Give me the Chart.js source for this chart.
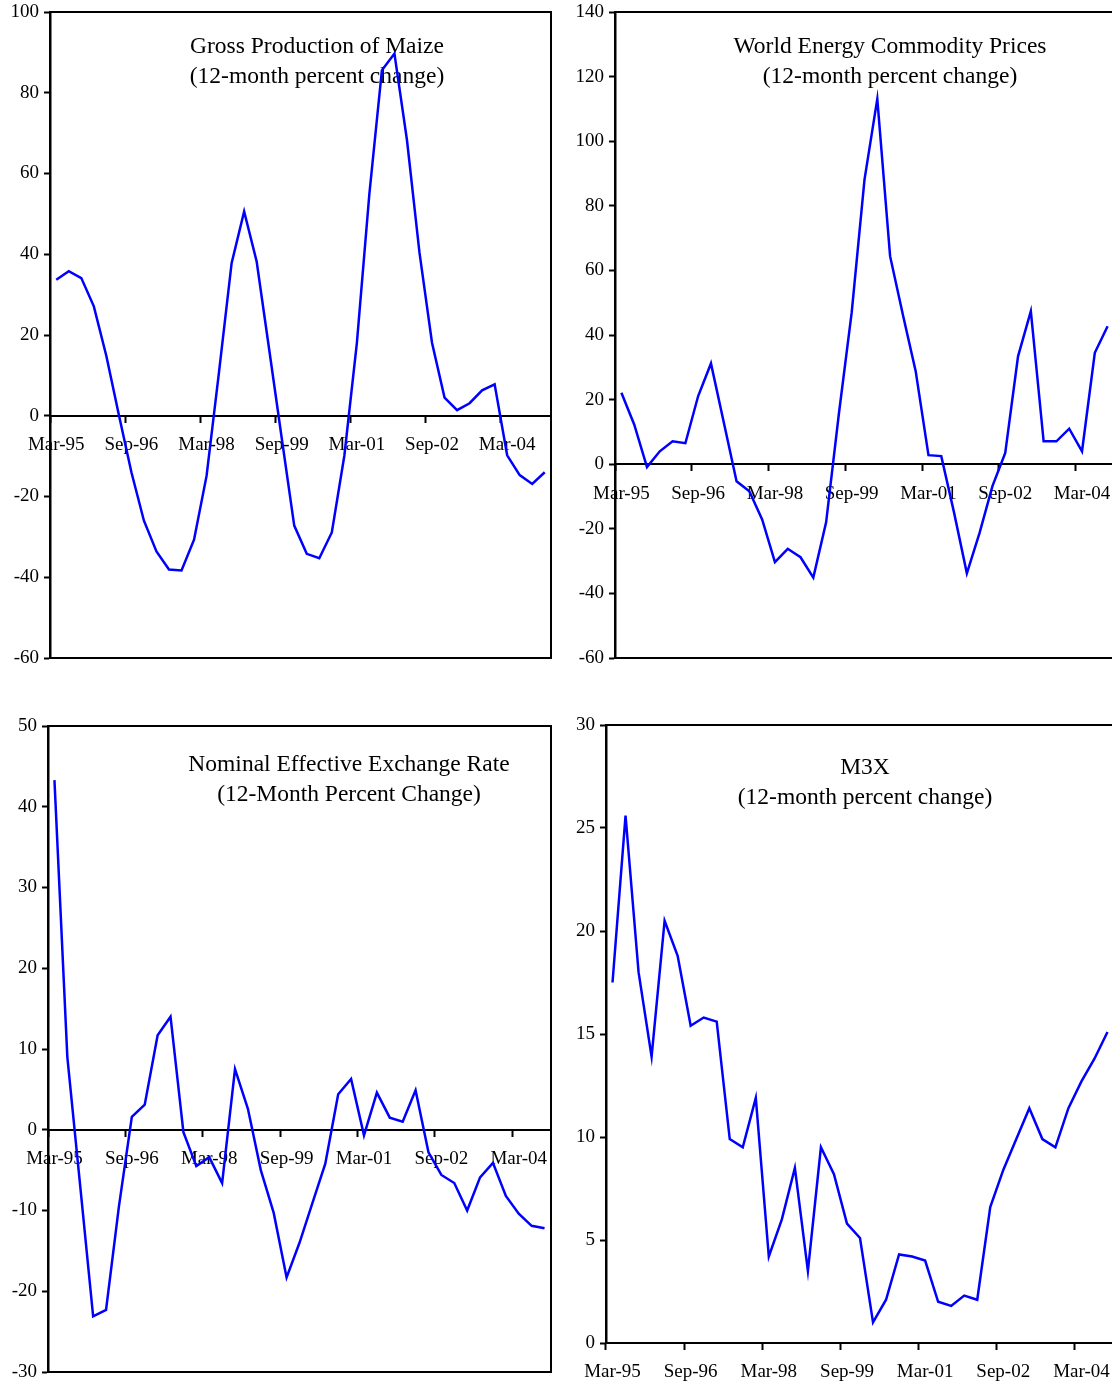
<!DOCTYPE html>
<html>
<head>
<meta charset="utf-8">
<script src="https://cdn.jsdelivr.net/npm/chart.js@4.4.1/dist/chart.umd.min.js"></script>
<style>
    html, body { margin: 0; padding: 0; background: #fff; }
    body { width: 1112px; height: 1385px; overflow: hidden; position: relative; }
    canvas { position: absolute; }
</style>
</head>
<body>
<canvas id="maize" width="560" height="690" style="left:0;top:0"></canvas>
<canvas id="energy" width="560" height="690" style="left:560px;top:0"></canvas>
<canvas id="neer" width="560" height="685" style="left:0;top:700px"></canvas>
<canvas id="m3x" width="560" height="685" style="left:560px;top:700px"></canvas>
<script>
// Quarterly categories
const quarters = [
    'Mar-95', 'Jun-95', 'Sep-95', 'Dec-95', 'Mar-96', 'Jun-96', 'Sep-96', 'Dec-96',
    'Mar-97', 'Jun-97', 'Sep-97', 'Dec-97', 'Mar-98', 'Jun-98', 'Sep-98', 'Dec-98',
    'Mar-99', 'Jun-99', 'Sep-99', 'Dec-99', 'Mar-00', 'Jun-00', 'Sep-00', 'Dec-00',
    'Mar-01', 'Jun-01', 'Sep-01', 'Dec-01', 'Mar-02', 'Jun-02', 'Sep-02', 'Dec-02',
    'Mar-03', 'Jun-03', 'Sep-03', 'Dec-03', 'Mar-04', 'Jun-04', 'Sep-04', 'Dec-04'
]

// Series (12-month percent change)
const maizeValues = [
    33.7, 35.8, 34.1, 27.1, 14.8, 0.2, -14.0, -26.0, -33.6, -38.1,
    -38.3, -30.7, -14.9, 11.0, 37.8, 50.6, 38.2, 16.4, -5.5, -27.2,
    -34.2, -35.3, -28.9, -9.9, 18.0, 55.0, 85.6, 89.7, 68.3, 40.4,
    18.1, 4.5, 1.4, 3.1, 6.3, 7.8, -9.8, -14.7, -16.9, -14.0
]
const energyValues = [
    22.1, 12.3, -0.9, 4.0, 7.1, 6.5, 21.1, 31.2, 13.0, -5.3,
    -8.4, -17.1, -30.3, -26.2, -28.8, -35.1, -18.0, 15.7, 47.0, 88.1,
    113.1, 64.4, 46.3, 28.8, 2.8, 2.5, -15.0, -33.8, -21.2, -6.8,
    3.5, 33.4, 47.4, 7.1, 7.1, 11.0, 4.0, 34.5, 42.7
]
const neerValues = [
    43.3, 9.0, -7.0, -23.1, -22.3, -9.5, 1.6, 3.1, 11.7, 14.0,
    -0.3, -4.5, -3.4, -6.6, 7.5, 2.6, -5.0, -10.3, -18.3, -14.0,
    -9.1, -4.2, 4.4, 6.3, -0.7, 4.6, 1.5, 1.0, 4.9, -2.8,
    -5.6, -6.6, -10.0, -5.9, -4.1, -8.2, -10.4, -11.9, -12.2
]
const m3xValues = [
    17.5, 25.6, 18.0, 13.9, 20.5, 18.8, 15.4, 15.8, 15.6, 9.9,
    9.5, 11.9, 4.2, 6.0, 8.5, 3.5, 9.5, 8.2, 5.8, 5.1,
    1.0, 2.1, 4.3, 4.2, 4.0, 2.0, 1.8, 2.3, 2.1, 6.6,
    8.4, 9.9, 11.4, 9.9, 9.5, 11.4, 12.7, 13.8, 15.1
]

const serif = "'Liberation Serif', 'Times New Roman', serif"

// box around the plot area
const framePlugin = {
    id: 'frame',
    afterDraw(chart) {
        const { ctx, chartArea: a } = chart
        ctx.save()
        ctx.strokeStyle = '#000'
        ctx.lineWidth = 2
        ctx.strokeRect(a.left, a.top, a.right - a.left, a.bottom - a.top)
        ctx.restore()
    }
}

// title written inside the plot
const innerTitlePlugin = {
    id: 'innerTitle',
    beforeDatasetsDraw(chart, args, opts) {
        const { ctx } = chart
        ctx.save()
        ctx.fillStyle = '#000'
        ctx.font = '23.5px ' + serif
        ctx.textAlign = 'center'
        ctx.textBaseline = 'middle'
        opts.lines.forEach((line, i) => ctx.fillText(line, opts.x, opts.y + i * 30))
        ctx.restore()
    }
}

function buildChart(id, cfg) {
    const ctx = document.getElementById(id).getContext('2d')
    return new Chart(ctx, {
        type: 'line',
        data: {
            labels: quarters.slice(0, cfg.values.length),
            datasets: [{
                data: cfg.values,
                borderColor: '#0000FF',
                borderWidth: 2.5,
                pointRadius: 0,
                tension: 0,
                fill: false
            }]
        },
        options: {
            responsive: false,
            animation: false,
            devicePixelRatio: 1,
            layout: { padding: cfg.padding },
            plugins: {
                legend: { display: false },
                tooltip: { enabled: false },
                innerTitle: cfg.title
            },
            scales: {
                x: {
                    type: 'category',
                    offset: true,
                    position: { y: 0 },
                    grid: {
                        offset: true,
                        drawOnChartArea: false,
                        tickLength: 6,
                        tickWidth: 2,
                        tickColor: c => c.index % 6 === 0 ? '#000' : 'rgba(0,0,0,0)'
                    },
                    border: { color: '#000', width: 2 },
                    ticks: {
                        autoSkip: false,
                        maxRotation: 0,
                        padding: 12,
                        color: '#000',
                        font: { family: serif, size: 19 },
                        callback(v, i) { return i % 6 === 0 ? this.getLabelForValue(v) : '' }
                    },
                    afterFit: s => { s.height = 0 }
                },
                y: {
                    min: cfg.min,
                    max: cfg.max,
                    grid: { drawOnChartArea: false, tickLength: 6, tickWidth: 2, tickColor: '#000' },
                    border: { color: '#000', width: 2.5 },
                    ticks: {
                        stepSize: cfg.step,
                        padding: 5,
                        color: '#000',
                        font: { family: serif, size: 19 }
                    },
                    afterFit: s => {
                        s.width = cfg.axisWidth
                        s.paddingTop = 0
                        s.paddingBottom = 0
                    }
                }
            }
        },
        plugins: [innerTitlePlugin, framePlugin]
    })
}

buildChart('maize', {
    values: maizeValues, min: -60, max: 100, step: 20, axisWidth: 50,
    padding: { top: 12, right: 9, bottom: 32, left: 0 },
    title: { lines: ['Gross Production of Maize', '(12-month percent change)'], x: 317, y: 47 }
})
buildChart('energy', {
    values: energyValues, min: -60, max: 140, step: 20, axisWidth: 55,
    padding: { top: 12, right: 6, bottom: 32, left: 0 },
    title: { lines: ['World Energy Commodity Prices', '(12-month percent change)'], x: 330, y: 47 }
})
buildChart('neer', {
    values: neerValues, min: -30, max: 50, step: 10, axisWidth: 48,
    padding: { top: 26, right: 9, bottom: 13, left: 0 },
    title: { lines: ['Nominal Effective Exchange Rate', '(12-Month Percent Change)'], x: 349, y: 65 }
})
buildChart('m3x', {
    values: m3xValues, min: 0, max: 30, step: 5, axisWidth: 46,
    padding: { top: 25, right: 6, bottom: 42, left: 0 },
    title: { lines: ['M3X', '(12-month percent change)'], x: 305, y: 68 }
})
</script>
</body>
</html>
